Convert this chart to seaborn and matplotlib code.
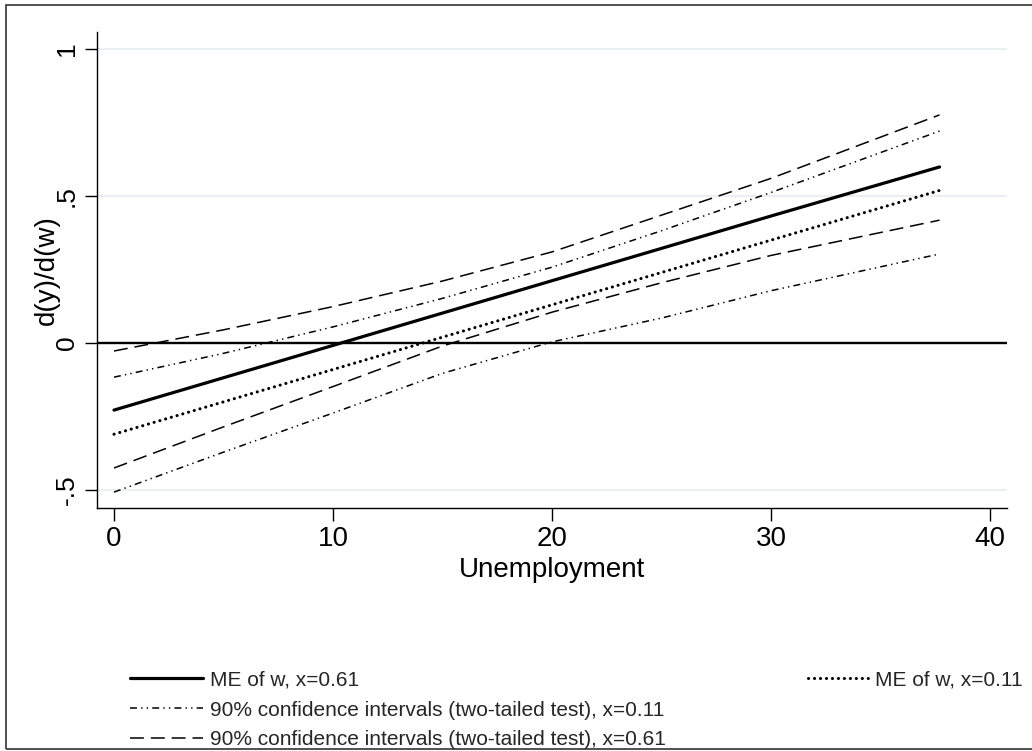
import matplotlib
matplotlib.use("Agg")
import matplotlib.pyplot as plt
import seaborn as sns
import pandas as pd
from matplotlib.patches import Rectangle

# unemployment grid (x) and values
unemployment = [0, 5, 10, 15, 20, 25, 30, 37.7]
me_061 = [-0.228, -0.118, -0.008, 0.102, 0.212, 0.322, 0.432, 0.599]
me_011 = [-0.310, -0.200, -0.090, 0.020, 0.130, 0.240, 0.350, 0.519]
ci_061_hi = [-0.027, 0.045, 0.124, 0.211, 0.310, 0.435, 0.560, 0.776]
ci_061_lo = [-0.425, -0.285, -0.148, -0.010, 0.105, 0.205, 0.298, 0.418]
ci_011_hi = [-0.116, -0.035, 0.055, 0.152, 0.258, 0.382, 0.512, 0.721]
ci_011_lo = [-0.507, -0.371, -0.238, -0.103, 0.004, 0.085, 0.178, 0.303]

xticks = [0, 10, 20, 30, 40]
yticks = [-0.5, 0, 0.5, 1]
ytick_labels = ["-.5", "0", ".5", "1"]

labels = [
    "ME of w, x=0.61",
    "ME of w, x=0.11",
    "90% confidence intervals (two-tailed test), x=0.11",
    "90% confidence intervals (two-tailed test), x=0.61",
]

sns.set_theme(style="white")
plt.rcParams["font.family"] = ["Liberation Sans", "DejaVu Sans"]
plt.rcParams["lines.scale_dashes"] = False

df = pd.DataFrame({
    "x": unemployment,
    "me_061": me_061,
    "me_011": me_011,
    "hi_061": ci_061_hi,
    "lo_061": ci_061_lo,
    "hi_011": ci_011_hi,
    "lo_011": ci_011_lo,
})

W, H = 1032, 751
fig = plt.figure(figsize=(W / 100, H / 100), dpi=100)
ax = fig.add_axes([97 / W, 1 - 508 / H, 910 / W, 476 / H])

dash_long = (0, (10, 5))
dash_dotdot = (0, (5, 3, 1, 3, 1, 3))
dots = (0, (0.1, 4.2))

for y in [1, 0.5, -0.5]:
    ax.axhline(y, color="#e8f0f2", lw=1.5, zorder=0)

sns.lineplot(data=df, x="x", y="me_061", ax=ax, color="black", lw=2.3,
             estimator=None, zorder=3)
sns.lineplot(data=df, x="x", y="me_011", ax=ax, color="black", lw=2.2,
             linestyle=dots, dash_capstyle="round", estimator=None, zorder=3)
sns.lineplot(data=df, x="x", y="hi_011", ax=ax, color="black", lw=1.1,
             linestyle=dash_dotdot, estimator=None, zorder=3)
sns.lineplot(data=df, x="x", y="lo_011", ax=ax, color="black", lw=1.1,
             linestyle=dash_dotdot, estimator=None, zorder=3)
sns.lineplot(data=df, x="x", y="hi_061", ax=ax, color="black", lw=1.1,
             linestyle=dash_long, estimator=None, zorder=3)
sns.lineplot(data=df, x="x", y="lo_061", ax=ax, color="black", lw=1.1,
             linestyle=dash_long, estimator=None, zorder=3)
lines = ax.get_lines()[3:]
ax.axhline(0, color="black", lw=1.7, zorder=4)

ax.set_xlim(-0.776, 40.78)
ax.set_ylim(-0.561, 1.058)
ax.set_xticks(xticks)
ax.set_yticks(yticks)
ax.set_yticklabels(ytick_labels)
ax.tick_params(axis="both", direction="out", length=9, width=1, color="black",
               labelcolor="black", left=True, bottom=True)
ax.tick_params(axis="x", pad=4, labelsize=20)
ax.tick_params(axis="y", pad=4, labelsize=19)
plt.setp(ax.get_yticklabels(), rotation=90, va="center", ha="right")

for side in ["top", "right"]:
    ax.spines[side].set_visible(False)
for side in ["left", "bottom"]:
    ax.spines[side].set_color("black")
    ax.spines[side].set_linewidth(1)

ax.set_xlabel("Unemployment", fontsize=20, color="black")
ax.set_ylabel("d(y)/d(w)", fontsize=20, color="black")
ax.xaxis.set_label_coords(0.5, -0.103)
ax.yaxis.set_label_coords(-0.041, 0.5)

# Stata-like legend: three entries on the left, the dotted one top right
fig.legend([lines[0], lines[2], lines[4]], [labels[0], labels[2], labels[3]],
           loc="center left", bbox_to_anchor=(130 / W, 1 - 710 / H),
           frameon=False, fontsize=15, handlelength=3.5, handletextpad=0.33,
           labelspacing=0.52, borderpad=0, borderaxespad=0)
fig.legend([lines[1]], [labels[1]],
           loc="center left", bbox_to_anchor=(808 / W, 1 - 680 / H),
           frameon=False, fontsize=15, handlelength=2.9, handletextpad=0.33,
           borderpad=0, borderaxespad=0)

fig.patches.append(Rectangle((6 / W, 2 / H), 1.2, 1 - 7 / H,
                             transform=fig.transFigure, fill=False,
                             ec="#333333", lw=1.2))

fig.savefig("out.png", dpi=100)
